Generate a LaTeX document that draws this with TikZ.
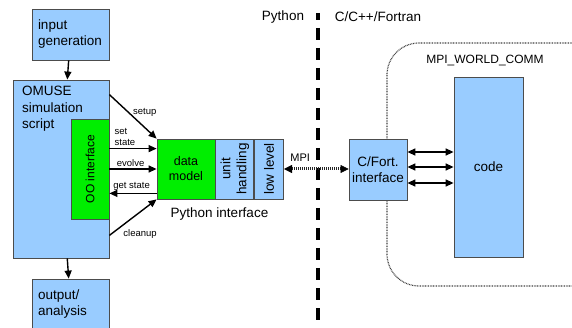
\documentclass[tikz,border=0pt]{standalone}
\usepackage{fontspec}
\setmainfont{Liberation Sans}
\usetikzlibrary{arrows.meta}

\definecolor{boxblue}{RGB}{153,204,255}
\definecolor{boxgreen}{RGB}{0,238,0}

\tikzset{
  box/.style={rectangle, draw=black!70, line width=0.8pt, fill=boxblue, inner sep=0pt,
              align=center, font=\fontsize{13.5}{16}\selectfont},
  greenbox/.style={box, fill=boxgreen},
  arr/.style={line width=1.4pt, -{Triangle[length=8pt,width=7pt]}},
  darr/.style={line width=1.4pt, {Triangle[length=8pt,width=7pt]}-{Triangle[length=8pt,width=7pt]}},
  lbl/.style={font=\fontsize{9.5}{11}\selectfont, align=left, inner sep=1pt},
  head/.style={font=\fontsize{13.5}{16}\selectfont},
}

\begin{document}
\begin{tikzpicture}[x=1pt, y=-1pt]
      % Variables
      \def \sepx  {318}
      \def \midy  {169}

      \useasboundingbox (0,0) rectangle (572,328);

      % MPI world
      \draw[black!75, line width=1.2pt, dash pattern=on 0.8pt off 0.8pt, rounded corners=32]
            (387,43) rectangle (610,286);
      \node[font=\fontsize{12}{14}\selectfont] (world) at (485,61) {MPI\_WORLD\_COMM};

      % Separator
      \draw[line width=4pt, dash pattern=on 12pt off 8pt, dash phase=5pt] (\sepx,13) -- (\sepx,335);
      \node[head] (py) at (283,17) {Python};
      \node[head] (cc) at (378,17) {C/C++/Fortran};

      % Python side
      \node[box, minimum width=77, minimum height=51, text width=65, align=left] (input) at (70.5,34.5) {input\\generation};
      \node[box, minimum width=96, minimum height=178] (omuse) at (61,169) {};
      \node[anchor=north west, align=left, font=\fontsize{13.5}{16.5}\selectfont, inner sep=0pt]
            (omusetext) at (22,86) {OMUSE\\simulation\\script};
      \node[box, minimum width=77, minimum height=51, text width=65, align=left] (output) at (70.5,304.5) {output/\\analysis};
      \node[greenbox, rotate=90, minimum width=100, minimum height=38,
            font=\fontsize{12}{14}\selectfont] (ooif) at (90,169) {OO interface};

      \node[greenbox, minimum width=58, minimum height=60,
            font=\fontsize{12.5}{15}\selectfont] (dmodel) at (186,\midy) {data\\model};
      \node[box, rotate=90, minimum width=60, minimum height=38, anchor=north] (unit) at (dmodel.east) {unit\\handling};
      \node[box, rotate=90, minimum width=60, minimum height=29, anchor=north] (lowlvl) at (unit.south) {low level};
      \node[font=\fontsize{13.5}{16}\selectfont] (pyif) at (219.5,214) {Python interface};

      % C side
      \node[box, minimum width=58, minimum height=61] (cfort) at (378,169.5) {C/Fort.\\interface};
      \node[box, minimum width=69, minimum height=180] (code) at (488.5,167) {code};

      % Arrows
      \draw[arr] (input) -- (omuse);
      \draw[arr] (omuse) -- (output);
      \draw[arr] (omuse.north east) ++(0,15) -- (dmodel.north west)
            node[lbl, pos=0.75, above=9pt] {setup};
      \draw[arr] ([yshift=-10]dmodel.north west -| ooif.south) -- ([yshift=-10]dmodel.north west)
            node[lbl, pos=0.33, above=1pt] {set\\state};
      \draw[arr] (dmodel.west -| ooif.south) -- (dmodel.west)
            node[lbl, pos=0.45, above=1pt] {evolve};
      \draw[arr] ([yshift=6]dmodel.south west) -- ([yshift=6]dmodel.south west -| ooif.south)
            node[lbl, pos=0.53, above=1pt] {get state};
      \draw[arr] (omuse.south east) ++(0,-23) -- (dmodel.south west)
            node[lbl, pos=0.65, below=16pt] {cleanup};

      % MPI link
      \draw[line width=3pt, dash pattern=on 1pt off 1pt, black!85,
            {Triangle[length=8pt,width=8pt,black,line width=0.5pt]}-{Triangle[length=8pt,width=8pt,black,line width=0.5pt]}]
            (lowlvl.south) -- (cfort.west |- lowlvl.south)
            node[pos=0.25, above=3pt, font=\fontsize{11}{13}\selectfont, black] {MPI};

      % code links
      \foreach \dy in {17.5,2.5,-13.5}
            \draw[darr] ([yshift=\dy]cfort.east) -- ([yshift=\dy]cfort.east -| code.west);

    \end{tikzpicture}
\end{document}
